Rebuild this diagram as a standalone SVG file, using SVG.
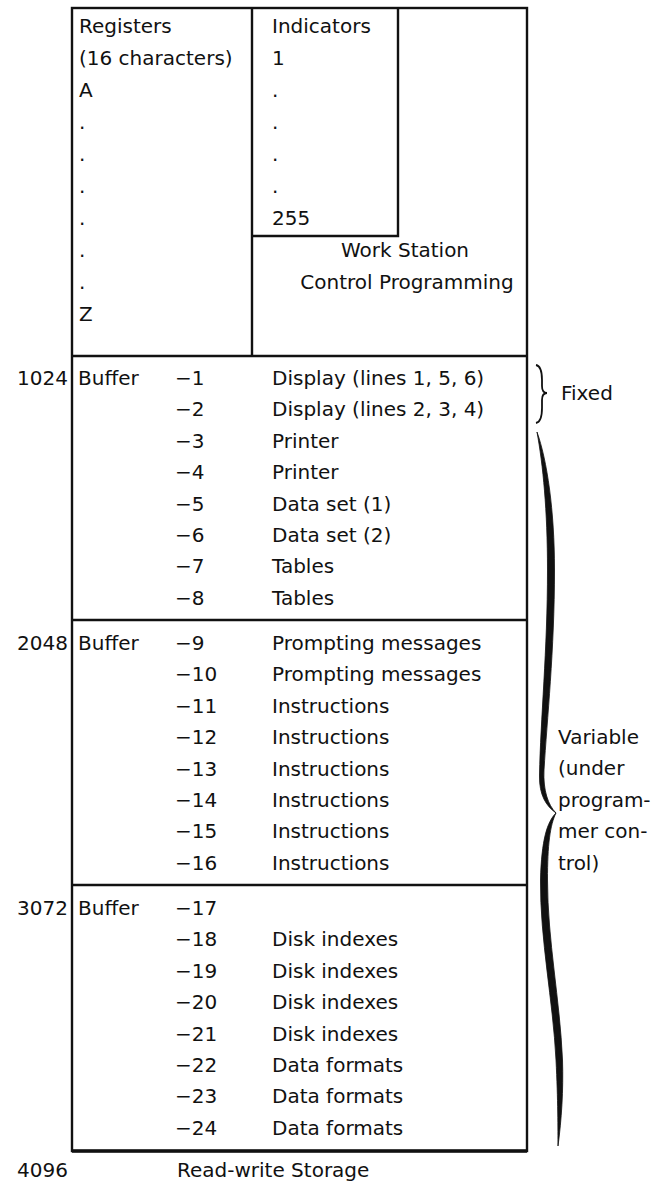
<svg xmlns="http://www.w3.org/2000/svg" width="669" height="1182" viewBox="0 0 669 1182">
<style>
text{font-family:"DejaVu Sans","Liberation Sans",sans-serif;font-size:20px;fill:#111}
.num{text-anchor:end}
.mid{text-anchor:middle}
.ln{stroke:#111;stroke-width:2.4;fill:none}
.br{fill:#111;stroke:#111;stroke-width:0.8}
</style>
<rect width="669" height="1182" fill="#fff"/>
<g id="frame">
<rect class="ln" x="72" y="8" width="455" height="1143"/>
<line class="ln" x1="72" y1="1151" x2="527" y2="1151" style="stroke-width:3.5"/>
</g>
<g id="registers">
<line class="ln" x1="252" y1="8" x2="252" y2="356"/>
<text x="79" y="33">Registers</text>
<text x="79" y="65">(16 characters)</text>
<text x="79" y="97">A</text>
<text x="79" y="129">.</text>
<text x="79" y="161">.</text>
<text x="79" y="193">.</text>
<text x="79" y="225">.</text>
<text x="79" y="257">.</text>
<text x="79" y="289">.</text>
<text x="79" y="321">Z</text>
</g>
<g id="indicators">
<polyline class="ln" points="398,8 398,236 252,236"/>
<text x="272" y="33">Indicators</text>
<text x="272" y="65">1</text>
<text x="272" y="97">.</text>
<text x="272" y="129">.</text>
<text x="272" y="161">.</text>
<text x="272" y="193">.</text>
<text x="272" y="225">255</text>
</g>
<g id="wscp">
<text class="mid" x="405" y="257">Work Station</text>
<text class="mid" x="407" y="289">Control Programming</text>
</g>
<g id="buffer1">
<line class="ln" x1="72" y1="356" x2="527" y2="356"/>
<text class="num" x="68" y="385">1024</text>
<text x="78" y="385">Buffer</text>
<text x="175" y="385">−1</text><text x="272" y="385">Display (lines 1, 5, 6)</text>
<text x="175" y="416">−2</text><text x="272" y="416">Display (lines 2, 3, 4)</text>
<text x="175" y="448">−3</text><text x="272" y="448">Printer</text>
<text x="175" y="479">−4</text><text x="272" y="479">Printer</text>
<text x="175" y="511">−5</text><text x="272" y="511">Data set (1)</text>
<text x="175" y="542">−6</text><text x="272" y="542">Data set (2)</text>
<text x="175" y="573">−7</text><text x="272" y="573">Tables</text>
<text x="175" y="605">−8</text><text x="272" y="605">Tables</text>
</g>
<g id="buffer2">
<line class="ln" x1="72" y1="620" x2="527" y2="620"/>
<text class="num" x="68" y="650">2048</text>
<text x="78" y="650">Buffer</text>
<text x="175" y="650">−9</text><text x="272" y="650">Prompting messages</text>
<text x="175" y="681">−10</text><text x="272" y="681">Prompting messages</text>
<text x="175" y="713">−11</text><text x="272" y="713">Instructions</text>
<text x="175" y="744">−12</text><text x="272" y="744">Instructions</text>
<text x="175" y="776">−13</text><text x="272" y="776">Instructions</text>
<text x="175" y="807">−14</text><text x="272" y="807">Instructions</text>
<text x="175" y="838">−15</text><text x="272" y="838">Instructions</text>
<text x="175" y="870">−16</text><text x="272" y="870">Instructions</text>
</g>
<g id="buffer3">
<line class="ln" x1="72" y1="885" x2="527" y2="885"/>
<text class="num" x="68" y="915">3072</text>
<text x="78" y="915">Buffer</text>
<text x="175" y="915">−17</text>
<text x="175" y="946">−18</text><text x="272" y="946">Disk indexes</text>
<text x="175" y="978">−19</text><text x="272" y="978">Disk indexes</text>
<text x="175" y="1009">−20</text><text x="272" y="1009">Disk indexes</text>
<text x="175" y="1041">−21</text><text x="272" y="1041">Disk indexes</text>
<text x="175" y="1072">−22</text><text x="272" y="1072">Data formats</text>
<text x="175" y="1103">−23</text><text x="272" y="1103">Data formats</text>
<text x="175" y="1135">−24</text><text x="272" y="1135">Data formats</text>
</g>
<g id="footer">
<text class="num" x="68" y="1177">4096</text>
<text x="177" y="1177">Read-write Storage</text>
</g>
<g id="braces">
<path d="M536,365 C541,366 542,372 542,380 L542,386 C542,391 544,393 547,393 C544,393 542,395 542,400 L542,408 C542,416 541,422 536,423" fill="none" stroke="#111" stroke-width="1.8"/>
<path class="br" d="M537,432 C547,460 554.5,510 554.5,570 C554.5,650 547,720 544,770 C543,790 548,805 556,813 C546,806 539,795 539.5,775 C540.5,720 547.5,650 547.5,570 C547.5,510 543,465 537,432 Z"/>
<path class="br" d="M556,813 C547,822 541.5,840 540.5,880 C540,940 553,1000 556,1060 C558,1100 558,1130 558,1146 C561.5,1120 563.5,1090 562.5,1060 C560,1000 547.5,940 547.5,880 C547.5,845 550,825 556,813 Z"/>
</g>
<g id="labels">
<text x="561" y="400">Fixed</text>
<text x="558" y="744">Variable</text>
<text x="558" y="775">(under</text>
<text x="558" y="807">program-</text>
<text x="558" y="838">mer con-</text>
<text x="558" y="870">trol)</text>
</g>
</svg>
